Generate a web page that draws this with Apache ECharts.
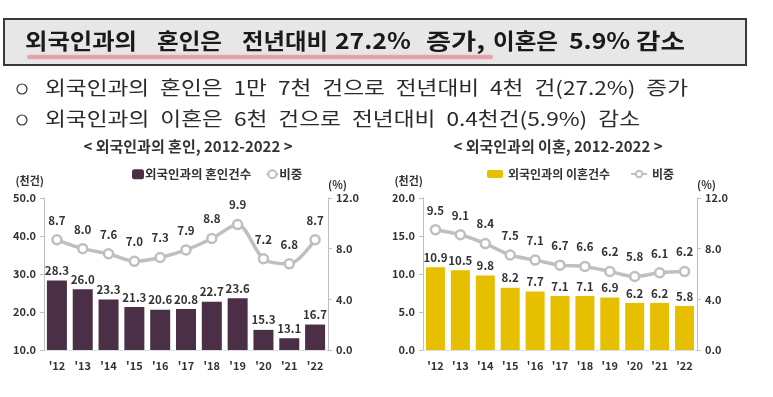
<!DOCTYPE html>
<html>
<head>
<meta charset="utf-8">
<script src="https://cdn.jsdelivr.net/npm/echarts@6/dist/echarts.min.js"></script>
<style>
  html, body { margin: 0; padding: 0; background: #fff; }
  #chart { width: 773px; height: 397px; }
</style>
</head>
<body>
<div id="chart"></div>
<script>
// 연도 (x축)
const years = ["'12", "'13", "'14", "'15", "'16", "'17", "'18", "'19", "'20", "'21", "'22"];
// 외국인과의 혼인 (천건) / 비중 (%)
const marriageCount = [28.3, 26.0, 23.3, 21.3, 20.6, 20.8, 22.7, 23.6, 15.3, 13.1, 16.7];
const marriageShare = [8.7, 8.0, 7.6, 7.0, 7.3, 7.9, 8.8, 9.9, 7.2, 6.8, 8.7];
// 외국인과의 이혼 (천건) / 비중 (%)
const divorceCount = [10.9, 10.5, 9.8, 8.2, 7.7, 7.1, 7.1, 6.9, 6.2, 6.2, 5.8];
const divorceShare = [9.5, 9.1, 8.4, 7.5, 7.1, 6.7, 6.6, 6.2, 5.8, 6.1, 6.2];

// 상단 문구 (단어, 시작 x, 끝 x) - 숫자는 끝 x 없이 한글 비율로
const headline = [
  ['외국인과의', 25, 137], ['혼인은', 157, 222], ['전년대비', 242, 328], ['27.2%', 335, null],
  ['증가,', 426, 485], ['이혼은', 493, 558], ['5.9%', 569, null], ['감소', 636, 685]
];
const bullet1 = '외국인과의 혼인은 1만 7천 건으로 전년대비 4천 건(27.2%) 증가';
const bullet2 = '외국인과의 이혼은 6천 건으로 전년대비 0.4천건(5.9%) 감소';

const FONT = '"Noto Sans CJK KR", "Noto Sans", sans-serif';
const TEXT = '#333333';
const GRAY = '#bfbfbf';
const PURPLE = '#4a2f47';
const YELLOW = '#e6bf00';

const chart = echarts.init(document.getElementById('chart'));

// 글자 폭 측정용
const ctx = document.createElement('canvas').getContext('2d');
function measure(text, font) {
  ctx.font = font;
  return ctx.measureText(text).width;
}

// 원본 글꼴이 더 넓어서 가로로 늘려서 그림
function wideText(text, x, cy, font, sx, color) {
  return {
    type: 'text', x: x, y: cy, scaleX: sx, z: 3,
    style: { text: text, font: font, fill: color, align: 'left', verticalAlign: 'middle' }
  };
}

// 한 줄을 [x0, x1] 안에 단어 간격 gap 으로 배치
function spreadWords(sentence, x0, x1, cy, font, gap, color) {
  const words = sentence.split(' ');
  const widths = words.map(w => measure(w, font));
  const total = widths.reduce((a, b) => a + b, 0);
  const sx = (x1 - x0 - gap * (words.length - 1)) / total;
  const out = [];
  let x = x0;
  words.forEach((w, i) => {
    out.push(wideText(w, x, cy, font, sx, color));
    x += widths[i] * sx + gap;
  });
  return out;
}

// 공통 축 스타일
function valueAxis(gridIndex, pos, min, max, interval, name) {
  return {
    type: 'value',
    gridIndex: gridIndex,
    position: pos,
    min: min,
    max: max,
    interval: interval,
    name: name,
    nameLocation: 'end',
    nameGap: pos === 'left' ? 12 : 8,
    nameTextStyle: {
      fontFamily: FONT, fontSize: 11, fontWeight: 'bold', color: TEXT,
      align: pos === 'left' ? 'right' : 'left'
    },
    axisLine: { show: true, lineStyle: { color: GRAY, width: 1 } },
    axisTick: { show: true, length: 4, lineStyle: { color: GRAY } },
    axisLabel: {
      fontFamily: FONT, fontSize: 11, fontWeight: 'bold', color: TEXT,
      margin: 8,
      formatter: v => v.toFixed(1)
    },
    splitLine: { show: false }
  };
}

function catAxis(gridIndex) {
  return {
    type: 'category',
    gridIndex: gridIndex,
    data: years,
    axisLine: { show: true, lineStyle: { color: '#e0e0e0' } },
    axisTick: { show: false },
    axisLabel: { fontFamily: FONT, fontSize: 11, fontWeight: 'bold', color: TEXT, margin: 10 }
  };
}

const barLabel = {
  show: true, position: 'top', distance: 4,
  fontFamily: FONT, fontSize: 11.5, fontWeight: 'bold', color: TEXT,
  formatter: p => p.value.toFixed(1)
};
const lineLabel = {
  show: true, position: 'top', distance: 8,
  fontFamily: FONT, fontSize: 11.5, fontWeight: 'bold', color: TEXT,
  formatter: p => p.value.toFixed(1)
};

const headFont = 'bold 22px ' + FONT;
const bulletFont = '19px ' + FONT;

const graphics = [
  // 상단 제목 상자
  {
    type: 'rect', left: 3, top: 18, z: 1,
    shape: { width: 742, height: 46 },
    style: { fill: '#e7e7e7', stroke: '#3a3a3a', lineWidth: 2 }
  },
  // 붉은 밑줄 (강조)
  {
    type: 'rect', left: 27, top: 55, z: 2,
    shape: { width: 466, height: 4, r: 2 },
    style: { fill: 'rgba(226,120,135,0.5)', shadowBlur: 3, shadowColor: 'rgba(226,120,135,0.6)' }
  }
];
// 제목 단어마다 원본 폭에 맞춰 늘림
const hangulScales = headline.filter(h => h[2] !== null).map(([w, x0, x1]) => (x1 - x0) / measure(w, headFont));
const avgScale = hangulScales.reduce((a, b) => a + b, 0) / hangulScales.length;
headline.forEach(([w, x0, x1]) => {
  const sx = x1 === null ? avgScale : (x1 - x0) / measure(w, headFont);
  graphics.push(wideText(w, x0, 41, headFont, sx, '#1a1a1a'));
});
// 요약 문장
graphics.push(
  { type: 'circle', z: 3, shape: { cx: 22, cy: 89, r: 5 }, style: { fill: 'none', stroke: '#333', lineWidth: 1.2 } },
  { type: 'circle', z: 3, shape: { cx: 22, cy: 120, r: 5 }, style: { fill: 'none', stroke: '#333', lineWidth: 1.2 } }
);
graphics.push(...spreadWords(bullet1, 45, 688, 88, bulletFont, 11, '#2a2a2a'));
graphics.push(...spreadWords(bullet2, 45, 640, 119, bulletFont, 11, '#2a2a2a'));

const option = {
  animation: false,
  backgroundColor: '#ffffff',
  title: [
    {
      text: '< 외국인과의 혼인, 2012-2022 >',
      left: 188, top: 139, textAlign: 'center', padding: 0,
      textStyle: { fontFamily: FONT, fontSize: 15, fontWeight: 'bold', color: TEXT }
    },
    {
      text: '< 외국인과의 이혼, 2012-2022 >',
      left: 558, top: 139, textAlign: 'center', padding: 0,
      textStyle: { fontFamily: FONT, fontSize: 15, fontWeight: 'bold', color: TEXT }
    }
  ],
  legend: [
    {
      data: ['외국인과의 혼인건수', '비중1'],
      left: 132, top: 168, padding: 0,
      itemGap: 14, itemWidth: 12, itemHeight: 10,
      formatter: n => n === '비중1' ? '비중' : n,
      textStyle: { fontFamily: FONT, fontSize: 12.5, fontWeight: 'bold', color: TEXT, padding: [0, 0, 0, -4] }
    },
    {
      data: ['외국인과의 이혼건수', '비중2'],
      left: 487, top: 168, padding: 0,
      itemGap: 20, itemWidth: 16, itemHeight: 8,
      formatter: n => n === '비중2' ? '비중' : n,
      textStyle: { fontFamily: FONT, fontSize: 12, fontWeight: 'bold', color: TEXT }
    }
  ],
  grid: [
    { left: 44, right: 445, top: 198, bottom: 47 },
    { left: 423, right: 76, top: 198, bottom: 47 }
  ],
  xAxis: [catAxis(0), catAxis(1)],
  yAxis: [
    valueAxis(0, 'left', 10, 50, 10, '(천건)'),
    valueAxis(0, 'right', 0, 12, 4, '(%)'),
    valueAxis(1, 'left', 0, 20, 5, '(천건)'),
    valueAxis(1, 'right', 0, 12, 4, '(%)')
  ],
  series: [
    {
      name: '외국인과의 혼인건수', type: 'bar',
      xAxisIndex: 0, yAxisIndex: 0,
      data: marriageCount, barWidth: 20,
      itemStyle: { color: PURPLE },
      label: barLabel
    },
    {
      name: '비중1', type: 'line',
      xAxisIndex: 0, yAxisIndex: 1,
      data: marriageShare, smooth: 0.3,
      symbol: 'circle', symbolSize: 9,
      lineStyle: { color: GRAY, width: 3.5 },
      itemStyle: { color: '#ffffff', borderColor: GRAY, borderWidth: 2.5 },
      label: lineLabel
    },
    {
      name: '외국인과의 이혼건수', type: 'bar',
      xAxisIndex: 1, yAxisIndex: 2,
      data: divorceCount, barWidth: 19,
      itemStyle: { color: YELLOW },
      label: barLabel
    },
    {
      name: '비중2', type: 'line',
      xAxisIndex: 1, yAxisIndex: 3,
      data: divorceShare, smooth: 0.3,
      symbol: 'circle', symbolSize: 9,
      lineStyle: { color: GRAY, width: 3.5 },
      itemStyle: { color: '#ffffff', borderColor: GRAY, borderWidth: 2.5 },
      label: lineLabel
    }
  ],
  graphic: graphics
};

chart.setOption(option);
</script>
</body>
</html>
